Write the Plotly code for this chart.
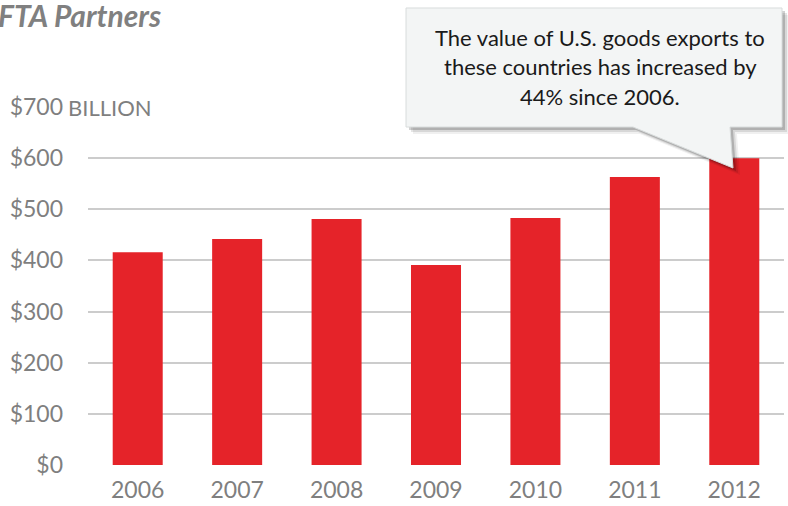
import plotly.graph_objects as go

years = ["2006", "2007", "2008", "2009", "2010", "2011", "2012"]
exports = [416, 442, 481, 391, 483, 563, 600]
tick_vals = [0, 100, 200, 300, 400, 500, 600, 700]
tick_text = ["$0", "$100", "$200", "$300", "$400", "$500", "$600", "$700"]
callout_lines = ["The value of U.S. goods exports to",
                 "these countries has increased by",
                 "44% since 2006."]

W, H = 788, 506
L, R, T, B = 88, 4, 107, 41
PW, PH = W - L - R, H - T - B

def px(x):
    return (x - L) / PW

def py(y):
    return (H - B - y) / PH

FONT = "Lato"
GRAY = "#7f7f7f"

fig = go.Figure(go.Bar(x=years, y=exports, marker_color="#e52329",
                       marker_line_width=0))

fig.update_layout(
    width=W, height=H, margin=dict(l=L, r=R, t=T, b=B),
    paper_bgcolor="white", plot_bgcolor="white",
    bargap=0.497, showlegend=False,
    font=dict(family=FONT, color=GRAY),
)
fig.update_yaxes(range=[0, 700], tickvals=tick_vals, ticktext=tick_text,
                 showgrid=True, gridcolor="#cccccc", gridwidth=2,
                 zeroline=False, showline=False,
                 tickfont=dict(size=23, color=GRAY, family=FONT),
                 ticks="", ticklabelstandoff=24)
fig.update_xaxes(showgrid=False, showline=False, ticks="",
                 tickfont=dict(size=23, color=GRAY, family=FONT),
                 ticklabelstandoff=9)

# BILLION label covering part of the top gridline
fig.add_annotation(text="BILLION", xref="paper", yref="y", x=px(66), y=700,
                   xanchor="left", yanchor="middle", showarrow=False,
                   width=102, align="left", bgcolor="white",
                   font=dict(size=22, color=GRAY, family=FONT))

# Title (clipped)
fig.add_annotation(text="<b><i>FTA Partners</i></b>", xref="paper", yref="paper",
                   x=px(-4), y=py(-5), xanchor="left", yanchor="top",
                   showarrow=False, font=dict(size=30, color="#808080", family=FONT))

# Callout
pts = [(406, 8), (782, 8), (782, 127), (730, 127), (733, 168), (633, 127), (406, 127)]

def path(dx=0, dy=0):
    s = ""
    for i, (x, y) in enumerate(pts):
        s += ("M" if i == 0 else "L") + f"{px(x+dx):.5f},{py(y+dy):.5f} "
    return s + "Z"

for d, op in [(7, 0.06), (5, 0.10), (3, 0.18)]:
    fig.add_shape(type="path", xref="paper", yref="paper", path=path(d, d),
                  fillcolor=f"rgba(0,0,0,{op})", line_width=0, layer="above")
fig.add_shape(type="path", xref="paper", yref="paper", path=path(),
              fillcolor="#f3f5f5", line=dict(color="#d8dcdc", width=1), layer="above")

for i, line in enumerate(callout_lines):
    fig.add_annotation(text=line, xref="paper", yref="paper",
                       x=px(600), y=py(37 + 30 * i), xanchor="center", yanchor="middle",
                       showarrow=False, font=dict(size=22, color="#1a1a1a", family=FONT))

fig.write_html("out.html")
